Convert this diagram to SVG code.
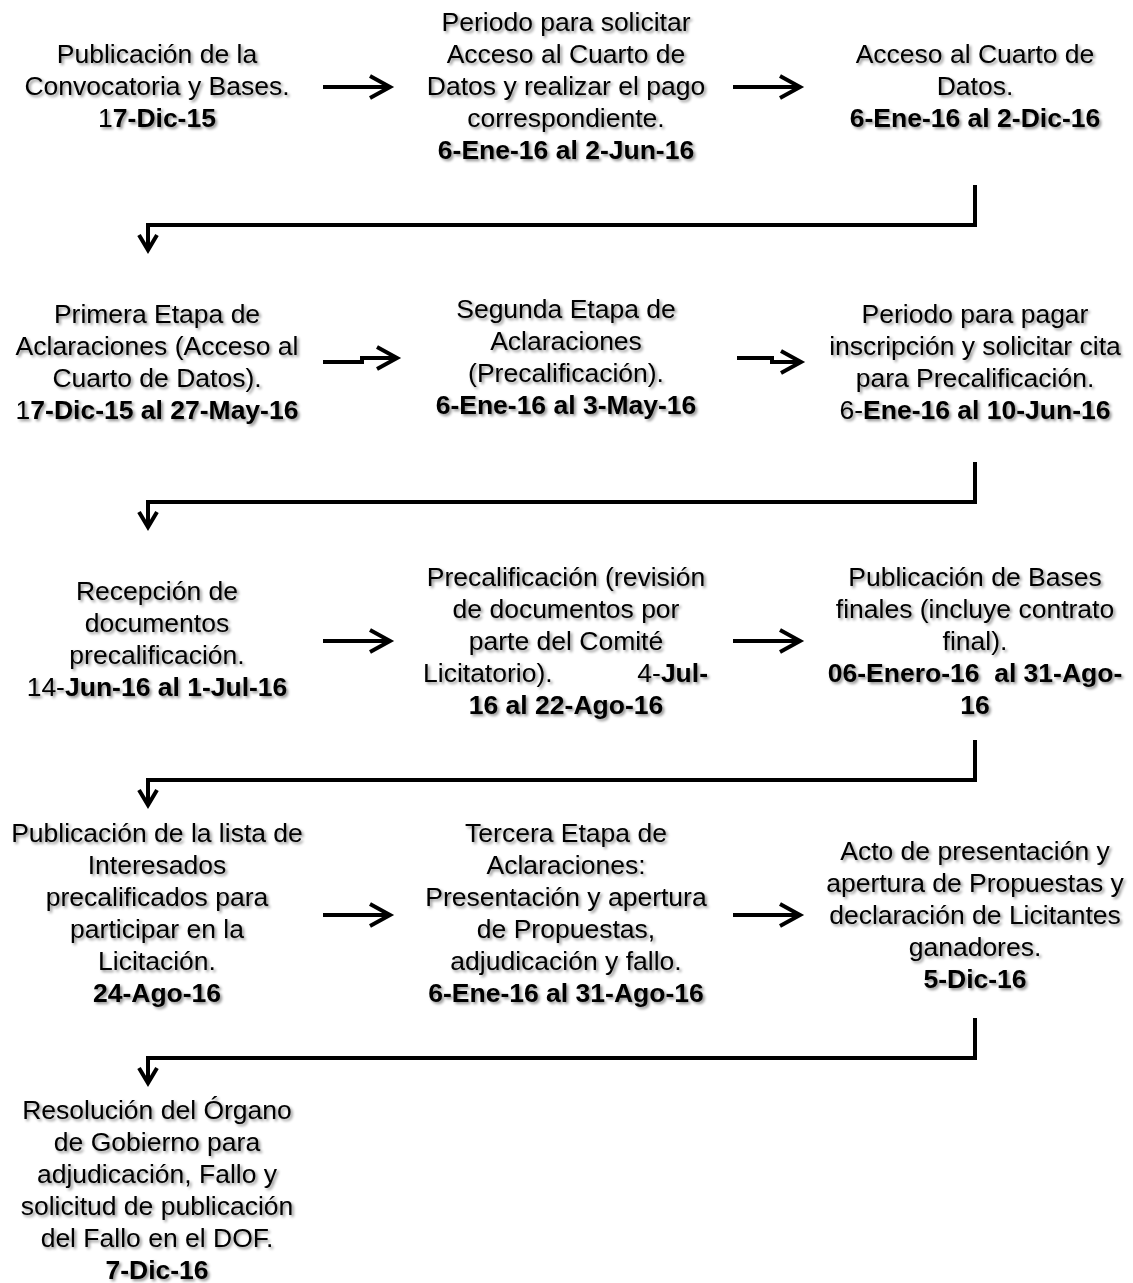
<svg xmlns="http://www.w3.org/2000/svg" width="1133" height="1283" viewBox="0 0 1133 1283">
<defs>
<style>
.t{font-family:"Liberation Sans",Arial,sans-serif;font-size:26.5px;fill:#000;text-anchor:middle}
.b{font-weight:bold}
.c{fill:none;stroke:#000;stroke-width:4}
</style>
<filter id="sh" x="-10%" y="-10%" width="120%" height="130%">
<feGaussianBlur in="SourceAlpha" stdDeviation="1.6"/>
<feOffset dx="1.5" dy="2" result="o"/>
<feComponentTransfer><feFuncA type="linear" slope="0.45"/></feComponentTransfer>
<feMerge><feMergeNode/><feMergeNode in="SourceGraphic"/></feMerge>
</filter>
<marker id="ah" markerUnits="userSpaceOnUse" viewBox="-22 -13 24 26" refX="0" refY="0" markerWidth="24" markerHeight="26" orient="auto" overflow="visible">
<path d="M-20,-11 L0,0 L-20,11" fill="none" stroke="#000" stroke-width="4"/>
</marker>
<marker id="ad" markerUnits="userSpaceOnUse" viewBox="-16 -10 18 20" refX="0" refY="0" markerWidth="18" markerHeight="20" orient="auto" overflow="visible">
<path d="M-15,-9 L0,0 L-15,9" fill="none" stroke="#000" stroke-width="4"/>
</marker>
</defs>
<rect width="1133" height="1283" fill="#fff"/>

<g id="connectors">
<path class="c" d="M323,87 H390" marker-end="url(#ah)"/>
<path class="c" d="M733,87 H800" marker-end="url(#ah)"/>
<path class="c" d="M975,185 V225 H148 V250" marker-end="url(#ad)"/>
<path class="c" d="M323,362 H362 V358 H397" marker-end="url(#ah)"/>
<path class="c" d="M737,358 H772 V362 H801" marker-end="url(#ah)"/>
<path class="c" d="M975,462 V502 H148 V527" marker-end="url(#ad)"/>
<path class="c" d="M323,641 H390" marker-end="url(#ah)"/>
<path class="c" d="M733,641 H800" marker-end="url(#ah)"/>
<path class="c" d="M975,740 V780 H148 V805" marker-end="url(#ad)"/>
<path class="c" d="M323,915 H390" marker-end="url(#ah)"/>
<path class="c" d="M733,915 H800" marker-end="url(#ah)"/>
<path class="c" d="M975,1018 V1058 H148 V1083" marker-end="url(#ad)"/>
</g>

<g filter="url(#sh)">
<g id="n1">
<text x="157" y="63" class="t">Publicación de la</text>
<text x="157" y="95" class="t">Convocatoria y Bases.</text>
<text x="157" y="127" class="t">1<tspan class="b">7-Dic-15</tspan></text>
</g>
<g id="n2">
<text x="566" y="31" class="t">Periodo para solicitar</text>
<text x="566" y="63" class="t">Acceso al Cuarto de</text>
<text x="566" y="95" class="t">Datos y realizar el pago</text>
<text x="566" y="127" class="t">correspondiente.</text>
<text x="566" y="159" class="t b">6-Ene-16 al 2-Jun-16</text>
</g>
<g id="n3">
<text x="975" y="63" class="t">Acceso al Cuarto de</text>
<text x="975" y="95" class="t">Datos.</text>
<text x="975" y="127" class="t b">6-Ene-16 al 2-Dic-16</text>
</g>
<g id="n4">
<text x="157" y="323" class="t">Primera Etapa de</text>
<text x="157" y="355" class="t">Aclaraciones (Acceso al</text>
<text x="157" y="387" class="t">Cuarto de Datos).</text>
<text x="157" y="419" class="t">1<tspan class="b">7-Dic-15 al 27-May-16</tspan></text>
</g>
<g id="n5">
<text x="566" y="318" class="t">Segunda Etapa de</text>
<text x="566" y="350" class="t">Aclaraciones</text>
<text x="566" y="382" class="t">(Precalificación).</text>
<text x="566" y="414" class="t b">6-Ene-16 al 3-May-16</text>
</g>
<g id="n6">
<text x="975" y="323" class="t">Periodo para pagar</text>
<text x="975" y="355" class="t">inscripción y solicitar cita</text>
<text x="975" y="387" class="t">para Precalificación.</text>
<text x="975" y="419" class="t">6-<tspan class="b">Ene-16 al 10-Jun-16</tspan></text>
</g>
<g id="n7">
<text x="157" y="600" class="t">Recepción de</text>
<text x="157" y="632" class="t">documentos</text>
<text x="157" y="664" class="t">precalificación.</text>
<text x="157" y="696" class="t">14-<tspan class="b">Jun-16 al 1-Jul-16</tspan></text>
</g>
<g id="n8">
<text x="566" y="586" class="t">Precalificación (revisión</text>
<text x="566" y="618" class="t">de documentos por</text>
<text x="566" y="650" class="t">parte del Comité</text>
<text x="423" y="682" class="t" style="text-anchor:start">Licitatorio).</text>
<text x="708" y="682" class="t" style="text-anchor:end">4-<tspan class="b">Jul-</tspan></text>
<text x="566" y="714" class="t b">16 al 22-Ago-16</text>
</g>
<g id="n9">
<text x="975" y="586" class="t">Publicación de Bases</text>
<text x="975" y="618" class="t">finales (incluye contrato</text>
<text x="975" y="650" class="t">final).</text>
<text x="975" y="682" class="t b" xml:space="preserve">06-Enero-16  al 31-Ago-</text>
<text x="975" y="714" class="t b">16</text>
</g>
<g id="n10">
<text x="157" y="842" class="t">Publicación de la lista de</text>
<text x="157" y="874" class="t">Interesados</text>
<text x="157" y="906" class="t">precalificados para</text>
<text x="157" y="938" class="t">participar en la</text>
<text x="157" y="970" class="t">Licitación.</text>
<text x="157" y="1002" class="t b">24-Ago-16</text>
</g>
<g id="n11">
<text x="566" y="842" class="t">Tercera Etapa de</text>
<text x="566" y="874" class="t">Aclaraciones:</text>
<text x="566" y="906" class="t">Presentación y apertura</text>
<text x="566" y="938" class="t">de Propuestas,</text>
<text x="566" y="970" class="t">adjudicación y fallo.</text>
<text x="566" y="1002" class="t b">6-Ene-16 al 31-Ago-16</text>
</g>
<g id="n12">
<text x="975" y="860" class="t">Acto de presentación y</text>
<text x="975" y="892" class="t">apertura de Propuestas y</text>
<text x="975" y="924" class="t">declaración de Licitantes</text>
<text x="975" y="956" class="t">ganadores.</text>
<text x="975" y="988" class="t b">5-Dic-16</text>
</g>
<g id="n13">
<text x="157" y="1119" class="t">Resolución del Órgano</text>
<text x="157" y="1151" class="t">de Gobierno para</text>
<text x="157" y="1183" class="t">adjudicación, Fallo y</text>
<text x="157" y="1215" class="t">solicitud de publicación</text>
<text x="157" y="1247" class="t">del Fallo en el DOF.</text>
<text x="157" y="1279" class="t b">7-Dic-16</text>
</g>
</g>
</svg>
